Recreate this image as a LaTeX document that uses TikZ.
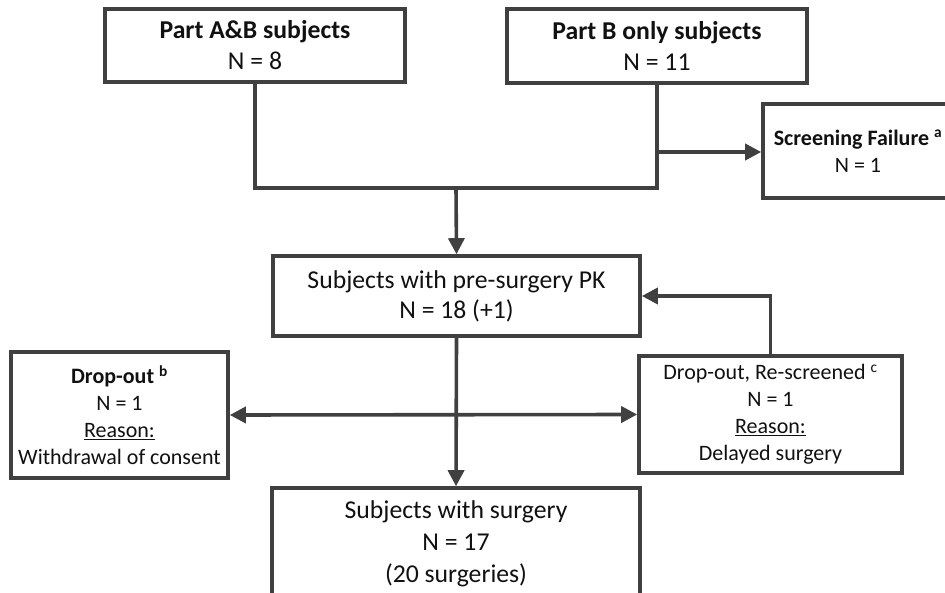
\documentclass[tikz,border=0pt]{standalone}
\usepackage{fontspec}
\setmainfont{Carlito}
\usetikzlibrary{arrows.meta,shadows}
\definecolor{linegray}{HTML}{404040}
\definecolor{txt}{HTML}{111111}
\begin{document}
\begin{tikzpicture}[x=1pt,y=-1pt,
  box/.style={draw=linegray, line width=3.6pt, fill=white, inner sep=0pt, align=center,
    text=txt, drop shadow={opacity=0.18, shadow xshift=2pt, shadow yshift=-2pt}},
  big/.style={font=\fontsize{25.7}{31}\selectfont},
  small/.style={font=\fontsize{22}{27}\selectfont},
  conn/.style={draw=linegray, line width=3.6pt},
  arr/.style={conn, -{Triangle[length=16pt,width=16pt]}},
  darr/.style={conn, {Triangle[length=16pt,width=16pt]}-{Triangle[length=16pt,width=16pt]}}
]
\useasboundingbox (0,0) rectangle (945,593);
\clip (0,0) rectangle (945,593);
\fill[white] (0,0) rectangle (945,593);

\node[box, big, minimum width=300pt, minimum height=73pt] (A) at (255,45.5)
  {\textbf{Part A\&B subjects}\\N = 8};
\node[box, big, minimum width=300pt, minimum height=74pt] (B) at (657,46)
  {\textbf{Part B only subjects}\\N = 11};
\node[box, small, minimum width=190pt, minimum height=94pt] (SF) at (858,151)
  {\textbf{Screening Failure} \textsuperscript{\textbf{a}}\\N = 1};
\node[box, big, font=\fontsize{25.7}{30}\selectfont, minimum width=367pt, minimum height=80pt] (PK) at (456.5,296)
  {Subjects with pre-surgery PK\\N = 18 (+1)};
\node[box, small, minimum width=217pt, minimum height=126pt] (DO) at (119.5,415)
  {\textbf{Drop-out} \textsuperscript{\textbf{b}}\\N = 1\\\underline{Reason:}\\Withdrawal of consent};
\node[box, small, minimum width=263pt, minimum height=117pt] (RS) at (770.5,414.5)
  {Drop-out, Re-screened \textsuperscript{c}\\N = 1\\\underline{Reason:}\\Delayed surgery};
\node[box, big, font=\fontsize{25.7}{32}\selectfont, minimum width=368pt, minimum height=112pt] (SU) at (456,544)
  {Subjects with surgery\\N = 17\\(20 surgeries)};

\coordinate (jl) at (255,188);
\coordinate (jr) at (657,188);
\coordinate (jm) at (456,188);
\coordinate (sf) at (657,152);

\draw[conn] (A.south) -- (jl) -- (jr) -- (B.south);
\draw[arr] (jm) -- (PK.north);
\draw[arr] (sf) -- (sf -| SF.west);
\draw[arr] (PK.south) -- (SU.north);
\draw[darr] (DO.east) -- (RS.west);
\draw[arr] (RS.north) |- (PK.east);
\end{tikzpicture}
\end{document}
